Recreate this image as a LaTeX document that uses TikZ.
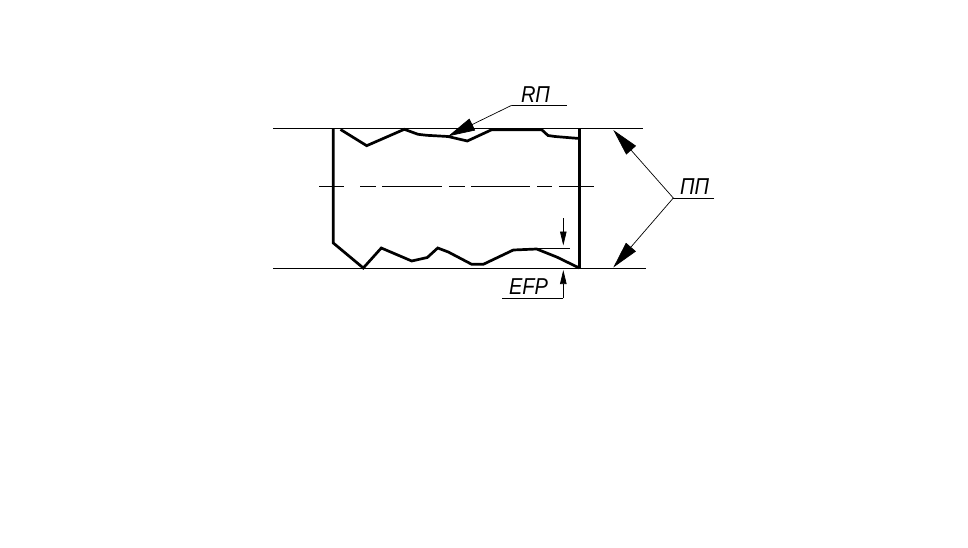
\documentclass[tikz,border=0pt]{standalone}
\usepackage{fontspec}
\setmainfont{Liberation Sans}
\newfontfamily\labelfont[FakeStretch=0.87]{Liberation Sans Italic}
\usetikzlibrary{arrows.meta}
\tikzset{
  thinline/.style={line width=1pt,black},
  leader/.style={line width=0.7pt,black},
  profile/.style={line width=2.7pt,black,line join=miter,miter limit=2},
  bigarrow/.style={leader,-{Triangle[length=27pt,width=13pt]}},
  smallarrow/.style={leader,-{Triangle[length=14pt,width=6.5pt]}},
  lab/.style={inner sep=0pt,font=\labelfont\fontsize{23}{23}\selectfont,text=black,anchor=center},
}
\begin{document}
\begin{tikzpicture}[x=1pt,y=-1pt]
\useasboundingbox (0,0) rectangle (968,548);
\fill[white] (0,0) rectangle (968,548);
% datum lines
\draw[thinline] (273,129) -- (643,129);
\draw[thinline] (273,268.3) -- (646,268.3);
% centre line
\draw[thinline] (319,186.3) -- (344,186.3) (360,186.3) -- (376,186.3) (382,186.3) -- (442,186.3)
  (449,186.3) -- (465,186.3) (471,186.3) -- (530,186.3) (537,186.3) -- (552,186.3) (559,186.3) -- (594,186.3);
% walls and profiles
\draw[profile] (333.3,129) -- (333.3,243) -- (363.3,268) -- (381.3,248) -- (411.7,261) -- (427.3,257.5)
  -- (437.7,248) -- (448.3,252) -- (471.7,264.3) -- (483.3,264.3) -- (513.3,250) -- (536.7,249)
  -- (556.7,257) -- (579.3,268);
\draw[profile] (579.3,129) -- (579.3,268.5);
\draw[profile] (340.5,129.5) -- (366.7,145.7) -- (404.3,129.3) -- (418,134.3) -- (426.7,135.3) -- (448,136.5)
  -- (467.3,141) -- (491.7,129.7) -- (541.7,129.7) -- (548,135.5) -- (555,136.5) -- (579.3,138.5);
% RП
\node[lab] (rp) at (535.5,95) {RП};
\coordinate (rpL) at (511.7,105.3);
\coordinate (rpR) at (566.7,105.3);
\coordinate (rpTip) at (448,136.3);
\draw[leader] (rpR) -- (rpL);
\draw[bigarrow] (rpL) -- (rpTip);
% ПП
\node[lab] (pp) at (694.5,187) {ПП};
\coordinate (ppJ) at (673.3,198);
\coordinate (ppR) at (714,198);
\coordinate (ppUp) at (613.3,130);
\coordinate (ppDn) at (613.3,267.5);
\draw[leader] (ppR) -- (ppJ);
\draw[bigarrow] (ppJ) -- (ppUp);
\draw[bigarrow] (ppJ) -- (ppDn);
% EFP
\node[lab] (efp) at (528.5,287) {EFP};
\coordinate (eTop) at (563.3,218.3);
\coordinate (eTipA) at (563.3,245.5);
\coordinate (eBot) at (563.3,298.3);
\coordinate (eTipB) at (563.3,270);
\coordinate (eLeft) at (502.3,298.3);
\coordinate (eExtA) at (536,248.3);
\coordinate (eExtB) at (570,248.3);
\draw[leader] (eExtA) -- (eExtB);
\draw[smallarrow] (eTop) -- (eTipA);
\draw[smallarrow] (eBot) -- (eTipB);
\draw[leader] (eLeft) -- (eBot);
\end{tikzpicture}
\end{document}
